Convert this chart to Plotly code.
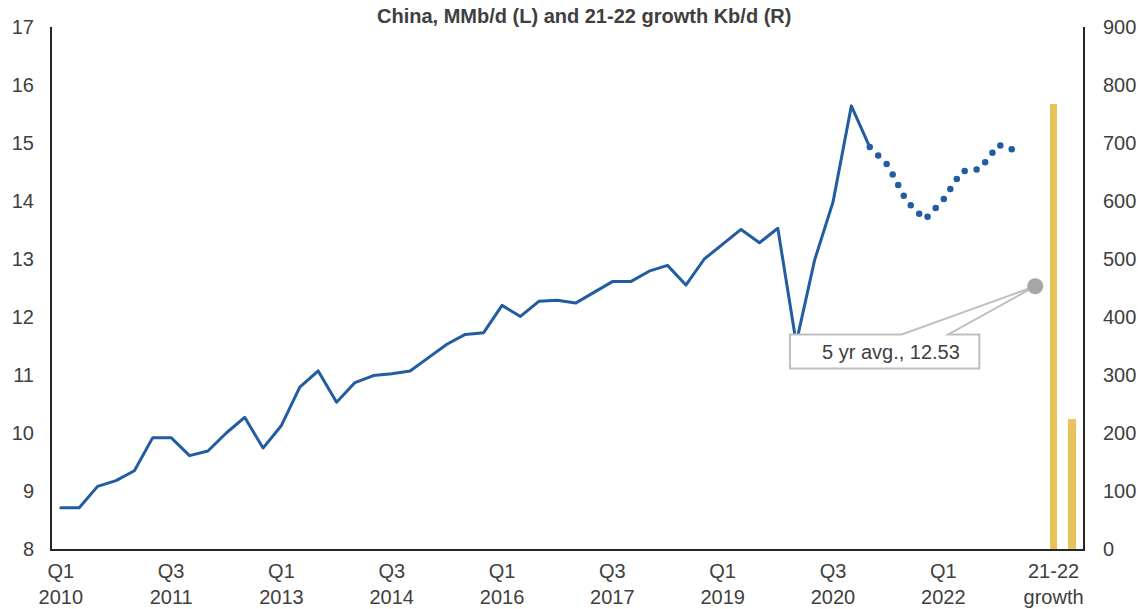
import plotly.graph_objects as go

# X axis: one slot per quarter, then the 5-yr average slot and the two growth bars
tick_positions = [0, 6, 12, 18, 24, 30, 36, 42, 48, 54]
tick_labels = ["Q1<br>2010", "Q3<br>2011", "Q1<br>2013", "Q3<br>2014", "Q1<br>2016",
               "Q3<br>2017", "Q1<br>2019", "Q3<br>2020", "Q1<br>2022", "21-22<br>growth"]

# China demand, MMb/d, quarterly history Q1 2010 - Q1 2021
history = [8.71, 8.71, 9.08, 9.18, 9.35, 9.92, 9.92, 9.61, 9.69, 10.00,
           10.27, 9.74, 10.13, 10.79, 11.07, 10.53, 10.87, 10.99, 11.02, 11.07,
           11.30, 11.53, 11.70, 11.73, 12.20, 12.01, 12.27, 12.29, 12.24, 12.42,
           12.61, 12.61, 12.79, 12.89, 12.55, 13.00, 13.26, 13.51, 13.28, 13.53,
           11.55, 12.98, 13.98, 15.64, 14.93]

# Forecast path, starting from the last history quarter
forecast_start = 44
forecast = [14.93, 14.61, 14.00, 13.68, 14.02, 14.51, 14.55, 14.97, 14.86]

# Five-year average marker
avg_pos = 53
avg_5yr = 12.53

# 2021 and 2022 growth, Kb/d (right axis)
growth_pos = [54, 55]
growth_kbd = [767, 225]

BLUE = "#215da0"
GOLD = "#e8c35a"
TEXT = "#404040"
AXIS = "#262626"
FONT = "Liberation Sans, Arial, Helvetica, sans-serif"

fig = go.Figure()

fig.add_trace(go.Scatter(
    x=list(range(len(history))), y=history, mode="lines",
    line=dict(color=BLUE, width=3), hoverinfo="skip", showlegend=False,
))
fig.add_trace(go.Scatter(
    x=list(range(forecast_start, forecast_start + len(forecast))), y=forecast,
    mode="lines", line=dict(color=BLUE, width=6.5, dash="0px,12px"),
    hoverinfo="skip", showlegend=False,
))
fig.add_trace(go.Bar(
    x=growth_pos, y=growth_kbd, yaxis="y2", width=0.41,
    marker=dict(color=GOLD, line=dict(width=0)), hoverinfo="skip", showlegend=False,
))

# Callout box with a wedge pointing at the average marker
bx0, bx1 = 39.66, 49.96
by0, by1 = 11.11, 11.70
wx0, wx1 = 45.74, 48.27
callout = (f"M {bx0},{by1} L {wx0},{by1} L {avg_pos},{avg_5yr} L {wx1},{by1} "
           f"L {bx1},{by1} L {bx1},{by0} L {bx0},{by0} Z")

fig.update_layout(
    width=1138, height=609,
    margin=dict(l=52, r=55, t=27, b=60),
    paper_bgcolor="white", plot_bgcolor="white",
    font=dict(family=FONT, size=20, color=TEXT),
    bargap=0,
    xaxis=dict(
        range=[-0.48, 55.6], tickmode="array", tickvals=tick_positions, ticktext=tick_labels,
        showgrid=False, zeroline=False, showline=True, linecolor=AXIS, linewidth=2,
        ticks="", ticklabelstandoff=3, tickfont=dict(size=20, color=TEXT), automargin=False,
    ),
    yaxis=dict(
        range=[8, 17], dtick=1, showgrid=False, zeroline=False, showline=True,
        linecolor=AXIS, linewidth=2, ticks="", ticklabelstandoff=12,
        tickfont=dict(size=20, color=TEXT), automargin=False,
    ),
    yaxis2=dict(
        range=[0, 900], dtick=100, overlaying="y", side="right", showgrid=False,
        zeroline=False, showline=True, linecolor=AXIS, linewidth=2, ticks="",
        ticklabelstandoff=14, tickfont=dict(size=20, color=TEXT), automargin=False,
    ),
    shapes=[
        dict(type="path", xref="x", yref="y", path=callout, fillcolor="white",
             line=dict(color="#bfbfbf", width=2), layer="above"),
        dict(type="circle", xref="x", yref="y", xsizemode="pixel", ysizemode="pixel",
             xanchor=avg_pos, yanchor=avg_5yr, x0=-8, x1=8, y0=-8, y1=8,
             fillcolor="#a6a6a6", line=dict(width=0), layer="above"),
    ],
    annotations=[
        dict(text="<b>China, MMb/d (L) and 21-22 growth Kb/d (R)</b>",
             xref="paper", yref="paper", x=0.516, y=1.022, xanchor="center",
             yanchor="middle", showarrow=False, font=dict(size=20, color=TEXT)),
        dict(text=f"5 yr avg., {avg_5yr:.2f}", xref="x", yref="y",
             x=45.15, y=(by0 + by1) / 2, xanchor="center", yanchor="middle",
             showarrow=False, font=dict(size=20, color=TEXT)),
    ],
)

# Round caps turn the zero-length dashes of the forecast line into dots
round_caps = """
var gd = document.getElementById('{plot_id}');
function roundCaps() {
  gd.querySelectorAll('.scatterlayer path.js-line').forEach(function (p) {
    p.style.strokeLinecap = 'round';
    p.style.strokeLinejoin = 'round';
  });
}
roundCaps();
gd.on('plotly_afterplot', roundCaps);
"""

fig.write_html("out.html", config={"displayModeBar": False}, post_script=round_caps)
